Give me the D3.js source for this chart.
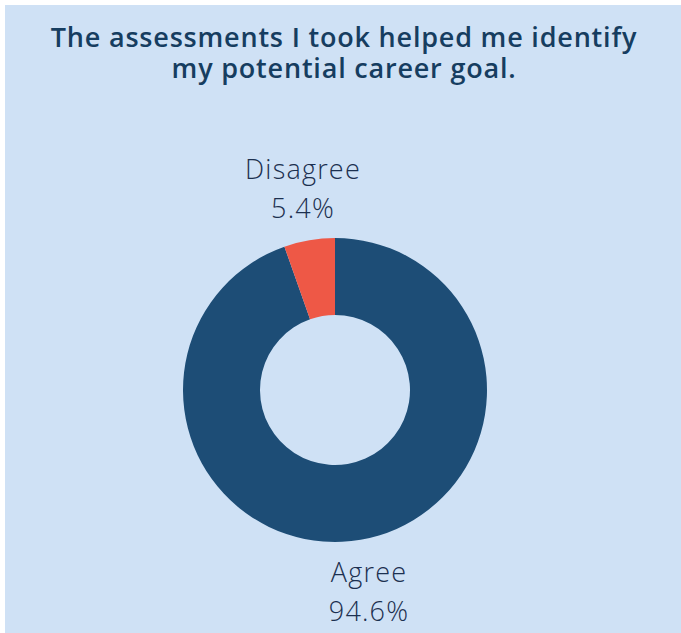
<!DOCTYPE html>
<html>
<head>
<script src="https://cdn.jsdelivr.net/npm/d3@7/dist/d3.min.js"></script>
<style>
  body { margin: 0; background: #ffffff; }
  #chart { width: 681px; height: 633px; }
  .title { font-family: "Open Sans", Lato, sans-serif; font-weight: 600; fill: #163d60; font-size: 27px; letter-spacing: 0.8px; }
  .lbl { font-family: "Open Sans", Lato, sans-serif; font-weight: 300; fill: #1c3050; font-size: 27px; letter-spacing: 1.2px; }
</style>
</head>
<body>
<div id="chart"></div>
<script>
// data
var categories = ['Agree', 'Disagree'];
var values = [94.6, 5.4];
var colors = ['#1d4d76', '#ee5846'];
var titleLines = ['The assessments I took helped me identify', 'my potential career goal.'];

var width = 681, height = 633;
var cx = 335, cy = 390;
var outerR = 152, innerR = 75;

var svg = d3.select('#chart').append('svg')
  .attr('width', width)
  .attr('height', height);

// panel
svg.append('rect')
  .attr('x', 5).attr('y', 5)
  .attr('width', width - 5).attr('height', height - 5)
  .attr('fill', '#cfe1f5');

svg.selectAll('.title')
  .data(titleLines)
  .enter().append('text')
  .attr('class', 'title')
  .attr('x', 344)
  .attr('y', function(d, i) { return 47 + i * 31; })
  .attr('text-anchor', 'middle')
  .text(function(d) { return d; });

var dataset = categories.map(function(c, i) { return { label: c, value: values[i] }; });

var pie = d3.pie().value(function(d) { return d.value; }).sort(null);
var arc = d3.arc().innerRadius(innerR).outerRadius(outerR);

var g = svg.append('g').attr('transform', 'translate(' + cx + ',' + cy + ')');

g.selectAll('path')
  .data(pie(dataset))
  .enter().append('path')
  .attr('d', arc)
  .attr('fill', function(d, i) { return colors[i]; });

// labels
var labelPos = { 'Agree': [369, 582], 'Disagree': [303, 179] };
dataset.forEach(function(d) {
  var p = labelPos[d.label];
  var t = svg.append('text')
    .attr('class', 'lbl')
    .attr('text-anchor', 'middle')
    .attr('x', p[0]).attr('y', p[1]);
  t.append('tspan').attr('x', p[0]).text(d.label);
  t.append('tspan').attr('x', p[0]).attr('dy', 39).text(d.value.toFixed(1) + '%');
});
</script>
</body>
</html>
